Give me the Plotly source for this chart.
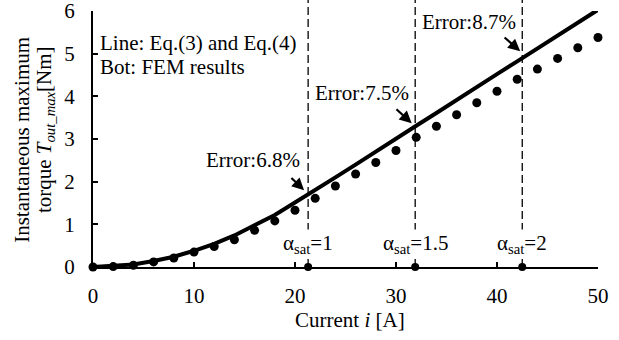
import plotly.graph_objects as go

# FEM results (bots)
current_fem = [0, 2, 4, 6, 8, 10, 12, 14, 16, 18, 20, 22, 24, 26, 28, 30,
               32, 34, 36, 38, 40, 42, 44, 46, 48, 50]
torque_fem = [0.00, 0.01, 0.04, 0.12, 0.21, 0.35, 0.48, 0.64, 0.86, 1.08,
              1.33, 1.61, 1.90, 2.18, 2.45, 2.73, 3.04, 3.30, 3.57, 3.85,
              4.12, 4.40, 4.64, 4.89, 5.14, 5.38]

# Analytical curve from Eq.(3) and Eq.(4)
current_eq = [0, 2, 4, 6, 8, 10, 12, 14, 16, 18, 20, 21.3, 22, 24, 26, 28,
              30, 32, 34, 36, 38, 40, 42, 44, 46, 48, 50]
torque_eq = [0.00, 0.02, 0.06, 0.14, 0.24, 0.38, 0.54, 0.74, 0.97, 1.22,
             1.51, 1.71, 1.80, 2.10, 2.40, 2.71, 3.01, 3.31, 3.61, 3.92,
             4.22, 4.52, 4.82, 5.12, 5.43, 5.73, 6.03]

# Saturation markers
sat_current = [21.3, 31.9, 42.5]
sat_labels = ["α<sub>sat</sub>=1", "α<sub>sat</sub>=1.5", "α<sub>sat</sub>=2"]

# Error callouts: text, text position, arrow tail, arrow tip
err_texts = ["Error:6.8%", "Error:7.5%", "Error:8.7%"]
err_text_x = [15.85, 26.6, 37.2]
err_text_y = [2.52, 4.07, 5.75]
err_tail_x = [19.5, 29.9, 40.6]
err_tail_y = [2.12, 3.73, 5.41]
err_tip_x = [20.9, 31.55, 42.3]
err_tip_y = [1.80, 3.37, 5.06]

x_ticks = [0, 10, 20, 30, 40, 50]
y_ticks = [0, 1, 2, 3, 4, 5, 6]

FONT = "Times New Roman, Liberation Serif, serif"
FS = 21

fig = go.Figure()

fig.add_trace(go.Scatter(
    x=current_eq, y=torque_eq, mode="lines",
    line=dict(color="black", width=4), cliponaxis=False,
))
fig.add_trace(go.Scatter(
    x=current_fem, y=torque_fem, mode="markers",
    marker=dict(color="black", size=9), cliponaxis=False,
))
fig.add_trace(go.Scatter(
    x=sat_current, y=[0] * len(sat_current), mode="markers",
    marker=dict(color="black", size=8), cliponaxis=False,
))

shapes = []
for xc in sat_current:
    shapes.append(dict(
        type="line", xref="x", yref="paper", x0=xc, x1=xc, y0=0, y1=1.05,
        line=dict(color="black", width=1.3, dash="8px,4px"), layer="below",
    ))

annotations = []
for xc, lab in zip(sat_current, sat_labels):
    annotations.append(dict(
        x=xc, y=0.55, xref="x", yref="y", text=lab, showarrow=False,
        font=dict(family=FONT, size=FS, color="black"),
        bgcolor="white", xanchor="center", yanchor="middle",
    ))

for t, tx, ty, ax, ay, px, py in zip(err_texts, err_text_x, err_text_y,
                                     err_tail_x, err_tail_y, err_tip_x, err_tip_y):
    annotations.append(dict(
        x=tx, y=ty, xref="x", yref="y", text=t, showarrow=False,
        font=dict(family=FONT, size=FS, color="black"),
        xanchor="center", yanchor="middle",
    ))
    annotations.append(dict(
        x=px, y=py, ax=ax, ay=ay, xref="x", yref="y", axref="x", ayref="y",
        text="", showarrow=True, arrowhead=2, arrowsize=1.1, arrowwidth=2.2,
        arrowcolor="black", standoff=0, startstandoff=0,
    ))

annotations += [
    dict(x=0.5, y=5.24, xref="x", yref="y", text="Line: Eq.(3) and Eq.(4)",
         showarrow=False, xanchor="left", yanchor="middle",
         font=dict(family=FONT, size=FS, color="black")),
    dict(x=0.5, y=4.68, xref="x", yref="y", text="Bot: FEM results",
         showarrow=False, xanchor="left", yanchor="middle",
         font=dict(family=FONT, size=FS, color="black")),
    dict(x=25.4, y=-0.207, xref="x", yref="paper", text="Current <i>i</i> [A]",
         showarrow=False, xanchor="center", yanchor="middle",
         font=dict(family=FONT, size=FS, color="black")),
    dict(x=-0.141, y=0.496, xref="paper", yref="paper",
         text="Instantaneous maximum", textangle=-90,
         showarrow=False, xanchor="center", yanchor="middle",
         font=dict(family=FONT, size=FS, color="black")),
    dict(x=-0.095, y=0.535, xref="paper", yref="paper",
         text="torque <i>T</i><sub><i>out_max</i></sub>[Nm]", textangle=-90,
         showarrow=False, xanchor="center", yanchor="middle",
         font=dict(family=FONT, size=FS, color="black")),
]

axis_common = dict(
    showgrid=False, zeroline=False, showline=True, linecolor="black",
    linewidth=2, ticks="inside", ticklen=5, tickwidth=2, tickcolor="black",
    tickfont=dict(family=FONT, size=FS, color="black"),
    ticklabeloverflow="allow", automargin=False,
)

fig.update_layout(
    width=619, height=340,
    margin=dict(l=93, r=21, t=11, b=73, autoexpand=False),
    paper_bgcolor="white", plot_bgcolor="white",
    showlegend=False,
    xaxis=dict(range=[0, 50], tickvals=x_ticks, ticklabelstandoff=9, **axis_common),
    yaxis=dict(range=[0, 6.001], tickvals=y_ticks, ticklabelstandoff=12, **axis_common),
    shapes=shapes,
    annotations=annotations,
)

fig.write_html("out.html")
